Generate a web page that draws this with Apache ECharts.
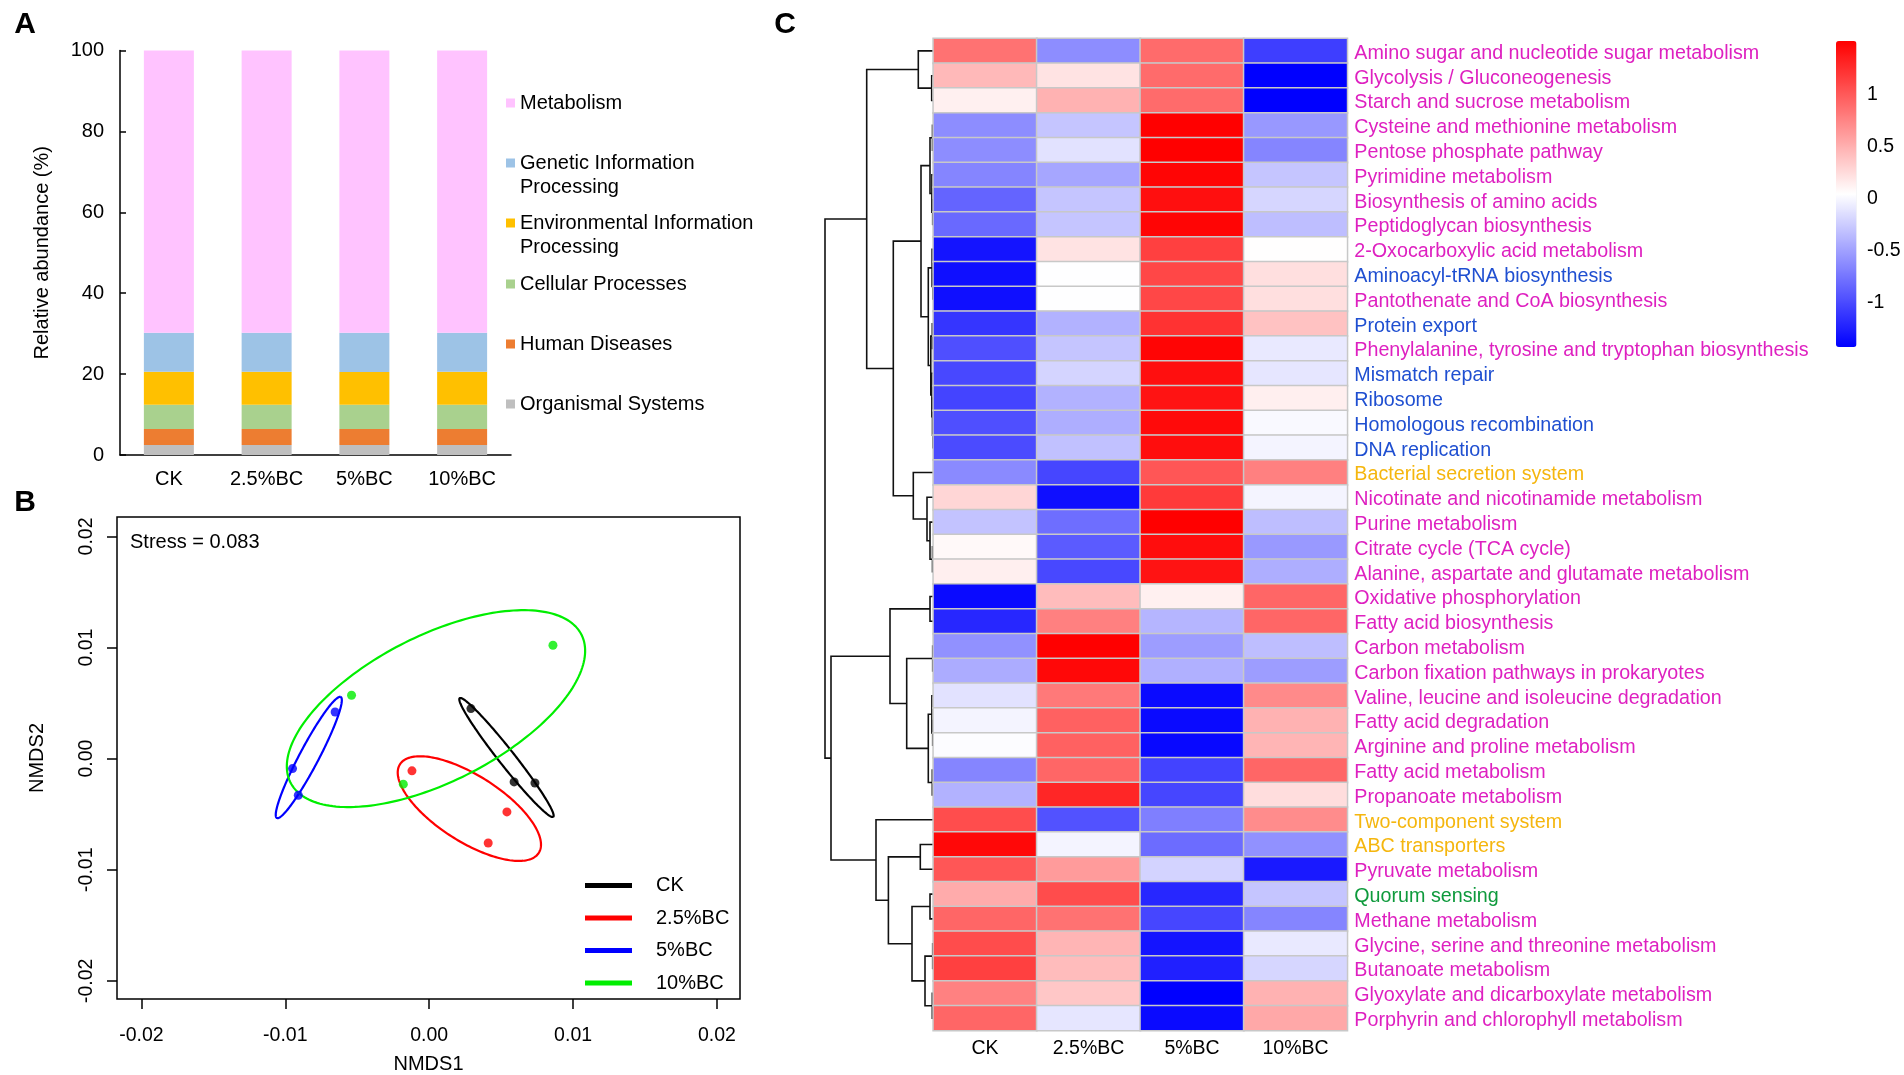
<!DOCTYPE html>
<html>
<head>
<meta charset="utf-8">
<script src="https://cdn.jsdelivr.net/npm/echarts@6/dist/echarts.min.js"></script>
<style>html,body{margin:0;padding:0;background:#fff}#c{width:1904px;height:1075px}</style>
</head>
<body>
<div id="c"></div>
<script>
// ---------- Panel A : KEGG level-1 relative abundance ----------
const barCategories = ['CK', '2.5%BC', '5%BC', '10%BC'];
const organismalSystems = [2.5, 2.5, 2.5, 2.5];
const humanDiseases = [3.9, 3.9, 3.9, 3.9];
const cellularProcesses = [6.0, 6.0, 6.0, 6.0];
const envInfoProcessing = [8.2, 8.2, 8.1, 8.2];
const genInfoProcessing = [9.6, 9.6, 9.7, 9.6];
const metabolism = [69.8, 69.8, 69.8, 69.8];

// ---------- Panel B : NMDS ----------
const nmdsGroups = ['CK', '2.5%BC', '5%BC', '10%BC'];
const ckPoints = [[0.0029, 0.0045], [0.0059, -0.0021], [0.00735, -0.0022]];
const bc25Points = [[-0.0012, -0.0011], [0.0054, -0.0048], [0.0041, -0.0076]];
const bc5Points = [[-0.00654, 0.0042], [-0.0095, -0.0009], [-0.0091, -0.0033]];
const bc10Points = [[0.0086, 0.0102], [-0.0054, 0.0057], [-0.0018, -0.0023]];
// ellipse: [centre x, centre y, semi-major, semi-minor, angle (deg)]
const ckEllipse = [0.00537, 0.0001, 0.00625, 0.0006, -58.8];
const bc25Ellipse = [0.00279, -0.0045, 0.0063, 0.0027, -42.7];
const bc5Ellipse = [-0.00837, 0.0001, 0.00588, 0.0007, 68];
const bc10Ellipse = [0.00047, 0.0045, 0.0122, 0.0061, 37.5];
const nmdsTicks = [-0.02, -0.01, 0, 0.01, 0.02];
const stressText = 'Stress = 0.083';

// ---------- Panel C : heatmap ----------
const heatColumns = ['CK', '2.5%BC', '5%BC', '10%BC'];
const pathways = [
  'Amino sugar and nucleotide sugar metabolism', 'Glycolysis / Gluconeogenesis', 'Starch and sucrose metabolism',
  'Cysteine and methionine metabolism', 'Pentose phosphate pathway', 'Pyrimidine metabolism',
  'Biosynthesis of amino acids', 'Peptidoglycan biosynthesis', '2-Oxocarboxylic acid metabolism',
  'Aminoacyl-tRNA biosynthesis', 'Pantothenate and CoA biosynthesis', 'Protein export',
  'Phenylalanine, tyrosine and tryptophan biosynthesis', 'Mismatch repair', 'Ribosome',
  'Homologous recombination', 'DNA replication', 'Bacterial secretion system',
  'Nicotinate and nicotinamide metabolism', 'Purine metabolism', 'Citrate cycle (TCA cycle)',
  'Alanine, aspartate and glutamate metabolism', 'Oxidative phosphorylation', 'Fatty acid biosynthesis',
  'Carbon metabolism', 'Carbon fixation pathways in prokaryotes', 'Valine, leucine and isoleucine degradation',
  'Fatty acid degradation', 'Arginine and proline metabolism', 'Fatty acid metabolism',
  'Propanoate metabolism', 'Two-component system', 'ABC transporters', 'Pyruvate metabolism',
  'Quorum sensing', 'Methane metabolism', 'Glycine, serine and threonine metabolism',
  'Butanoate metabolism', 'Glyoxylate and dicarboxylate metabolism', 'Porphyrin and chlorophyll metabolism'
];
// M = Metabolism, G = Genetic Information Processing, E = Environmental Information Processing, C = Cellular Processes
const pathwayCategory = [
  'M','M','M','M','M','M','M','M','M','G','M','G','M','G','G','G','G','E','M','M',
  'M','M','M','M','M','M','M','M','M','M','M','E','E','M','C','M','M','M','M','M'
];
const zCK = [0.83,0.42,0.10,-0.64,-0.64,-0.69,-0.88,-0.85,-1.34,-1.37,-1.37,-1.15,-1.00,-1.04,-1.06,-1.00,-1.02,-0.66,0.25,-0.33,
  0.05,0.11,-1.40,-1.23,-0.62,-0.46,-0.15,-0.05,0.00,-0.69,-0.43,1.04,1.44,0.99,0.50,0.90,1.05,1.12,0.74,0.90];
const z25 = [-0.64,0.18,0.46,-0.32,-0.15,-0.50,-0.32,-0.32,0.18,0.01,0.01,-0.43,-0.32,-0.23,-0.43,-0.45,-0.34,-1.05,-1.37,-0.82,
  -0.93,-1.04,0.40,0.75,1.49,1.44,0.79,0.93,0.93,0.90,1.27,-0.98,-0.05,0.59,1.05,0.83,0.44,0.40,0.34,-0.13];
const z5 = [0.87,0.87,0.87,1.49,1.49,1.46,1.40,1.46,1.12,1.08,1.08,1.20,1.46,1.40,1.38,1.43,1.41,0.99,1.15,1.49,
  1.41,1.38,0.10,-0.41,-0.55,-0.44,-1.40,-1.40,-1.41,-1.07,-1.05,-0.72,-0.83,-0.24,-1.23,-1.05,-1.34,-1.27,-1.46,-1.40];
const z10 = [-1.10,-1.46,-1.46,-0.58,-0.69,-0.32,-0.22,-0.36,0.02,0.20,0.20,0.37,-0.11,-0.13,0.11,-0.02,-0.05,0.75,-0.05,-0.36,
  -0.57,-0.45,0.90,0.90,-0.36,-0.55,0.69,0.46,0.44,0.90,0.21,0.68,-0.62,-1.31,-0.32,-0.69,-0.11,-0.22,0.46,0.52];
const colorbarTicks = [-1, -0.5, 0, 0.5, 1];
const zMin = -1.455, zMax = 1.487;
// row dendrogram merges: [left, right, height]; negative = row number, positive = earlier merge number
const rowMerges = [
  [-2,-3,0.016],[-1,1,0.15],[-4,-5,0.008],[-7,-8,0.006],[-6,4,0.014],[3,5,0.033],
  [-10,-11,0.004],[-9,7,0.012],[-12,-13,0.01],[-16,-17,0.004],[-15,10,0.008],[-14,11,0.014],
  [9,12,0.025],[8,13,0.05],[6,14,0.123],[-21,-22,0.008],[-20,16,0.033],[-19,17,0.063],
  [-18,18,0.2],[15,19,0.4],[2,20,0.666],
  [-23,-24,0.033],[-25,-26,0.006],[-28,-29,0.006],[-27,24,0.014],[-30,-31,0.01],[25,26,0.05],
  [23,27,0.266],[22,28,0.433],[-33,-34,0.13],[-35,-36,0.033],[-37,-38,0.006],[-39,-40,0.01],
  [32,33,0.083],[31,34,0.213],[30,35,0.449],[-32,36,0.573],[29,37,1.023],[21,38,1.083]
];

// ---------- build ----------
const FONT = 'Liberation Sans, Arial, sans-serif';
const catColor = {M: '#de20c0', G: '#1f4fd1', E: '#f5b60e', C: '#0e9a3c'};

const heatData = [];
const cols = [zCK, z25, z5, z10];
for (let r = 0; r < pathways.length; r++) {
  for (let c = 0; c < 4; c++) heatData.push([c, r, cols[c][r]]);
}

function buildDendro() {
  const nodes = [];
  const segs = [];
  const info = ref => ref < 0 ? {h: 0, y: -ref - 0.5} : nodes[ref - 1];
  rowMerges.forEach(([l, r, h]) => {
    const L = info(l), R = info(r);
    segs.push({coords: [[L.h, L.y], [h, L.y], [h, R.y], [R.h, R.y]]});
    nodes.push({h: h, y: (L.y + R.y) / 2});
  });
  return segs;
}

function ellipseRender(color) {
  return function (params, api) {
    const cx = api.value(0), cy = api.value(1), a = api.value(2), b = api.value(3);
    const ang = api.value(4) * Math.PI / 180;
    const pts = [];
    for (let k = 0; k <= 200; k++) {
      const t = k / 200 * 2 * Math.PI;
      const x = cx + a * Math.cos(ang) * Math.cos(t) - b * Math.sin(ang) * Math.sin(t);
      const y = cy + a * Math.sin(ang) * Math.cos(t) + b * Math.cos(ang) * Math.sin(t);
      pts.push(api.coord([x, y]));
    }
    return {type: 'polyline', shape: {points: pts}, style: {stroke: color, fill: null, lineWidth: 2.2}, silent: true};
  };
}

const fmt2 = v => (Math.abs(v) < 1e-9 ? 0 : v).toFixed(2);

const barSeriesDefs = [
  ['Organismal Systems', organismalSystems, '#BFBFBF'],
  ['Human Diseases', humanDiseases, '#ED7D31'],
  ['Cellular Processes', cellularProcesses, '#A9D18E'],
  ['Environmental Information Processing', envInfoProcessing, '#FFC000'],
  ['Genetic Information Processing', genInfoProcessing, '#9DC3E6'],
  ['Metabolism', metabolism, '#FFC3FF']
];
const series = [];
barSeriesDefs.forEach(([name, data, color]) => {
  series.push({type: 'bar', name, data, stack: 'a', xAxisIndex: 0, yAxisIndex: 0, barWidth: 50,
    itemStyle: {color}, silent: true});
});
const nmdsColors = ['#000000', '#ff0000', '#0000ff', '#00ee00'];
const nmdsPts = [ckPoints, bc25Points, bc5Points, bc10Points];
const nmdsEll = [ckEllipse, bc25Ellipse, bc5Ellipse, bc10Ellipse];
nmdsGroups.forEach((g, i) => {
  series.push({type: 'custom', name: g, xAxisIndex: 1, yAxisIndex: 1, data: [nmdsEll[i]],
    renderItem: ellipseRender(nmdsColors[i]), itemStyle: {color: nmdsColors[i]}, silent: true, z: 2});
});
nmdsGroups.forEach((g, i) => {
  series.push({type: 'scatter', name: g, xAxisIndex: 1, yAxisIndex: 1, data: nmdsPts[i], symbolSize: 9,
    itemStyle: {color: nmdsColors[i]}, silent: true, z: 3});
});
series.push({type: 'lines', coordinateSystem: 'cartesian2d', xAxisIndex: 2, yAxisIndex: 2, polyline: true,
  data: buildDendro(), lineStyle: {color: '#111', width: 1.6, opacity: 1}, silent: true});
const heatIndex = series.length;
series.push({type: 'heatmap', name: 'heat', xAxisIndex: 3, yAxisIndex: 3, data: heatData,
  itemStyle: {borderColor: '#c8c8c8', borderWidth: 1.5}, silent: true});

// legends for panel A (one per entry so that spacing matches the reference)
const legendCentres = [103, 163, 223, 284, 344, 404];
const legendOrder = ['Metabolism', 'Genetic Information Processing', 'Environmental Information Processing',
  'Cellular Processes', 'Human Diseases', 'Organismal Systems'];
const legends = legendOrder.map((name, i) => {
  const two = name.indexOf('Information') >= 0;
  return {
    data: [name], orient: 'vertical', left: 506, top: legendCentres[i] - (two ? 36 : 12), padding: 0,
    itemWidth: 9, itemHeight: 9, icon: 'rect', selectedMode: false,
    formatter: n => two ? '{p| }\n{t|' + n.replace(' Processing', '}\n{t|Processing') + '}' : n,
    textStyle: {fontSize: 20, lineHeight: 24, color: '#000', fontFamily: FONT,
      rich: {p: {fontSize: 20, lineHeight: 24}, t: {fontSize: 20, lineHeight: 24, color: '#000', fontFamily: FONT}}}
  };
});
legends.push({
  data: nmdsGroups, orient: 'vertical', left: 585, top: 873.5, padding: 0, itemGap: 8.5,
  itemWidth: 47, itemHeight: 5, icon: 'rect', selectedMode: false,
  formatter: n => '{s|}{t|' + n + '}',
  textStyle: {fontSize: 20, lineHeight: 24, color: '#000', fontFamily: FONT,
    rich: {s: {width: 19}, t: {fontSize: 20, lineHeight: 24, color: '#000', fontFamily: FONT}}}
});

const option = {
  animation: false,
  backgroundColor: '#fff',
  textStyle: {fontFamily: FONT},
  grid: [
    {left: 120, top: 50.5, width: 391, height: 404.5},
    {left: 117, top: 517, width: 623, height: 485.6, show: true, borderColor: '#000', borderWidth: 1.5, backgroundColor: 'transparent'},
    {left: 825, top: 38.5, width: 108.3, height: 992},
    {left: 933.3, top: 38.5, width: 414, height: 992},
    {left: 1836, top: 41, width: 20.5, height: 306}
  ],
  xAxis: [
    {type: 'category', gridIndex: 0, data: barCategories,
      axisLine: {lineStyle: {color: '#000', width: 1.5}}, axisTick: {show: false},
      axisLabel: {fontSize: 20, color: '#000', margin: 14, fontFamily: FONT}},
    {type: 'value', gridIndex: 1, min: -0.0217, max: 0.0216, splitLine: {show: false},
      axisLine: {show: false, onZero: false},
      axisTick: {show: true, length: 10, customValues: nmdsTicks, lineStyle: {color: '#000', width: 1.5}},
      axisLabel: {customValues: nmdsTicks, formatter: fmt2, fontSize: 19.5, color: '#000', margin: 27, fontFamily: FONT},
      name: 'NMDS1', nameLocation: 'middle', nameGap: 55, nameTextStyle: {fontSize: 20, color: '#000', fontFamily: FONT}},
    {type: 'value', gridIndex: 2, min: 0, max: 1.083, inverse: true, show: false},
    {type: 'category', gridIndex: 3, data: heatColumns, axisLine: {show: false}, axisTick: {show: false},
      axisLabel: {fontSize: 19.5, color: '#000', margin: 8, fontFamily: FONT}},
    {type: 'value', gridIndex: 4, min: 0, max: 1, show: false}
  ],
  yAxis: [
    {type: 'value', gridIndex: 0, min: 0, max: 100, interval: 20, splitLine: {show: false},
      axisLine: {show: true, lineStyle: {color: '#000', width: 1.5}},
      axisTick: {show: true, inside: true, length: 6, lineStyle: {color: '#000', width: 1.5}},
      axisLabel: {fontSize: 20, color: '#000', margin: 16, fontFamily: FONT},
      name: 'Relative abundance (%)', nameLocation: 'middle', nameGap: 68, nameRotate: 90,
      nameTextStyle: {fontSize: 20, color: '#000', fontFamily: FONT}},
    {type: 'value', gridIndex: 1, min: -0.02164, max: 0.02175, splitLine: {show: false},
      axisLine: {show: false, onZero: false},
      axisTick: {show: true, length: 10, customValues: nmdsTicks, lineStyle: {color: '#000', width: 1.5}},
      axisLabel: {customValues: nmdsTicks, formatter: fmt2, rotate: 90, fontSize: 19.5, color: '#000', margin: 20, fontFamily: FONT},
      name: 'NMDS2', nameLocation: 'middle', nameGap: 70, nameRotate: 90,
      nameTextStyle: {fontSize: 20, color: '#000', fontFamily: FONT}},
    {type: 'value', gridIndex: 2, min: 0, max: 40, inverse: true, show: false},
    {type: 'category', gridIndex: 3, data: pathways, inverse: true, position: 'right',
      axisLine: {show: false}, axisTick: {show: false},
      axisLabel: {interval: 0, fontSize: 19.7, margin: 7, fontFamily: FONT,
        formatter: v => '{t|' + v + '}',
        rich: {t: {fontSize: 19.7, fontFamily: FONT, padding: [5, 0, 0, 0]}},
        color: (v, i) => catColor[pathwayCategory[i]]}},
    {type: 'value', gridIndex: 4, min: zMin, max: zMax, position: 'right',
      axisLine: {show: false}, axisTick: {show: false}, splitLine: {show: false},
      axisLabel: {customValues: colorbarTicks, formatter: v => '{t|' + v + '}', fontSize: 19.5, color: '#000', margin: 10.5,
        rich: {t: {fontSize: 19.5, fontFamily: FONT, color: '#000', padding: [5, 0, 0, 0]}}, fontFamily: FONT}}
  ],
  visualMap: [{
    type: 'continuous', seriesIndex: heatIndex, min: zMin, max: zMax,
    inRange: {color: ['#0000ff', '#ffffff', '#ff0000']},
    left: 1836, top: 41, itemWidth: 20.5, itemHeight: 306, padding: 0,
    calculable: false, hoverLink: false, text: null
  }],
  legend: legends,
  graphic: [
    {type: 'text', x: 25, y: 25, style: {text: 'A', fontSize: 30, fontWeight: 'bold', fill: '#000', align: 'center', verticalAlign: 'middle', fontFamily: FONT}},
    {type: 'text', x: 25, y: 503, style: {text: 'B', fontSize: 30, fontWeight: 'bold', fill: '#000', align: 'center', verticalAlign: 'middle', fontFamily: FONT}},
    {type: 'text', x: 785, y: 25, style: {text: 'C', fontSize: 30, fontWeight: 'bold', fill: '#000', align: 'center', verticalAlign: 'middle', fontFamily: FONT}},
    {type: 'text', x: 130, y: 542, style: {text: stressText, fontSize: 20, fill: '#000', align: 'left', verticalAlign: 'middle', fontFamily: FONT}}
  ],
  series
};

const chart = echarts.init(document.getElementById('c'), null, {renderer: 'canvas'});
chart.setOption(option);
</script>
</body>
</html>
